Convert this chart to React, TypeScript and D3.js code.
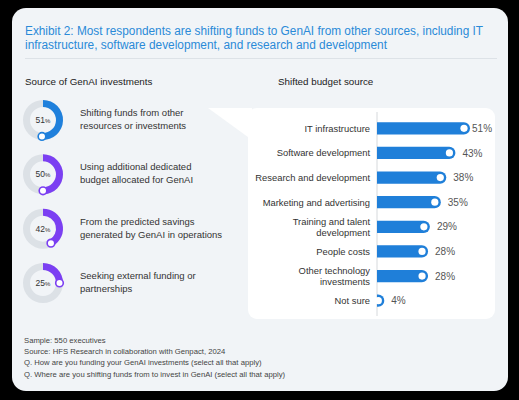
import React from "react";
import * as d3 from "d3";

const titleLines = [
  "Exhibit 2: Most respondents are shifting funds to GenAI from other sources, including IT",
  "infrastructure, software development, and research and development",
];
const titleWidths = [458, 362];

const donutLabels = [
  ["Shifting funds from other", "resources or investments"],
  ["Using additional dedicated", "budget allocated for GenAI"],
  ["From the predicted savings", "generated by GenAI in operations"],
  ["Seeking external funding or", "partnerships"],
];
const donutValues = [51, 50, 42, 25];
const donutColors = ["#1f80dc", "#7b3ff2", "#7b3ff2", "#7b3ff2"];

const barCategories = [
  "IT infrastructure",
  "Software development",
  "Research and development",
  "Marketing and advertising",
  "Training and talent development",
  "People costs",
  "Other technology investments",
  "Not sure",
];
const barLabelLines = [
  ["IT infrastructure"],
  ["Software development"],
  ["Research and development"],
  ["Marketing and advertising"],
  ["Training and talent", "development"],
  ["People costs"],
  ["Other technology", "investments"],
  ["Not sure"],
];
const barValues = [51, 43, 38, 35, 29, 28, 28, 4];

const footnotes = [
  "Sample: 550 executives",
  "Source: HFS Research in collaboration with Genpact, 2024",
  "Q. How are you funding your GenAI investments (select all that apply)",
  "Q. Where are you shifting funds from to invest in GenAI (select all that apply)",
];

const FONT = "'Liberation Sans', Arial, sans-serif";
const BLUE = "#1f7fd9";

export default function App() {
  const width = 519;
  const height = 400;

  // donuts
  const donutY = d3
    .scalePoint<number>()
    .domain(d3.range(donutValues.length))
    .range([120, 283]);
  const outerR = 20;
  const innerR = 13;
  const arc = d3.arc<any>().innerRadius(innerR).outerRadius(outerR);
  const angle = d3.scaleLinear().domain([0, 100]).range([0, 2 * Math.PI]);

  // bars
  const y = d3
    .scaleBand<string>()
    .domain(barCategories)
    .range([116, 313])
    .paddingInner(0.5)
    .paddingOuter(0.25);
  const x = d3.scaleLinear().domain([0, 51]).range([377, 470]);
  const bh = y.bandwidth();

  const barPath = (v: number, top: number) => {
    const x0 = x(0);
    const x1 = x(v);
    const r = bh / 2;
    return `M${x0},${top}H${x1 - r}A${r},${r} 0 0 1 ${x1 - r},${top + bh}H${x0}Z`;
  };

  return (
    <svg
      width={width}
      height={height}
      style={{ position: "absolute", left: 0, top: 0, fontFamily: FONT }}
    >
      <rect width={width} height={height} fill="#000" />
      <rect x={12} y={8} width={496} height={383} rx={14} fill="#f1f4f7" />

      {titleLines.map((t, i) => (
        <text
          key={i}
          x={25}
          y={35 + i * 14}
          fontSize={12.5}
          fill="#2a8ad8"
          textLength={titleWidths[i]}
          lengthAdjust="spacingAndGlyphs"
        >
          {t}
        </text>
      ))}
      <line x1={25} x2={497} y1={58.5} y2={58.5} stroke="#dde2e7" strokeWidth={1} />

      <text x={25} y={85} fontSize={9.8} fill="#222">
        Source of GenAI investments
      </text>
      <text x={278} y={85} fontSize={9.8} fill="#222">
        Shifted budget source
      </text>

      {donutValues.map((v, i) => {
        const cy = donutY(i)!;
        const a = angle(v);
        const mr = (innerR + outerR) / 2;
        return (
          <g key={i}>
            <g transform={`translate(43,${cy})`}>
              <path d={arc({ startAngle: 0, endAngle: 2 * Math.PI })!} fill="#dce1e6" />
              <path d={arc({ startAngle: 0, endAngle: a })!} fill={donutColors[i]} />
              <circle
                cx={mr * Math.sin(a)}
                cy={-mr * Math.cos(a)}
                r={3.8}
                fill="#fff"
                stroke={donutColors[i]}
                strokeWidth={1.6}
              />
              <text textAnchor="middle" y={3} fontSize={8.5} fill="#333">
                {v}
                <tspan fontSize={6}>%</tspan>
              </text>
            </g>
            {donutLabels[i].map((l, j) => (
              <text key={j} x={80} y={cy - 4 + j * 13} fontSize={9.5} fill="#333">
                {l}
              </text>
            ))}
          </g>
        );
      })}

      {/* callout panel */}
      <polygon points="208,108 252,108 252,140" fill="#fff" />
      <rect x={248} y={108} width={247} height={211} rx={9} fill="#fff" />
      <line x1={x(0)} x2={x(0)} y1={112} y2={316} stroke="#d6d9dc" strokeWidth={1} />

      {barCategories.map((c, i) => {
        const top = y(c)!;
        const cy = top + bh / 2;
        const lines = barLabelLines[i];
        const v = barValues[i];
        return (
          <g key={c}>
            {lines.map((l, j) => (
              <text
                key={j}
                x={370}
                y={cy + 3.5 + (j - (lines.length - 1) / 2) * 11.5}
                fontSize={9.4}
                textAnchor="end"
                fill="#333"
              >
                {l}
              </text>
            ))}
            <path d={barPath(v, top)} fill={BLUE} />
            <circle cx={x(v) - 6} cy={cy} r={3.6} fill="#fff" />
            <text x={x(v) + (v > 45 ? 2 : 7)} y={cy + 3.6} fontSize={10} fill="#555">
              {v}%
            </text>
          </g>
        );
      })}

      {footnotes.map((f, i) => (
        <text key={i} x={24} y={343 + i * 11.2} fontSize={7.7} fill="#444">
          {f}
        </text>
      ))}
    </svg>
  );
}
